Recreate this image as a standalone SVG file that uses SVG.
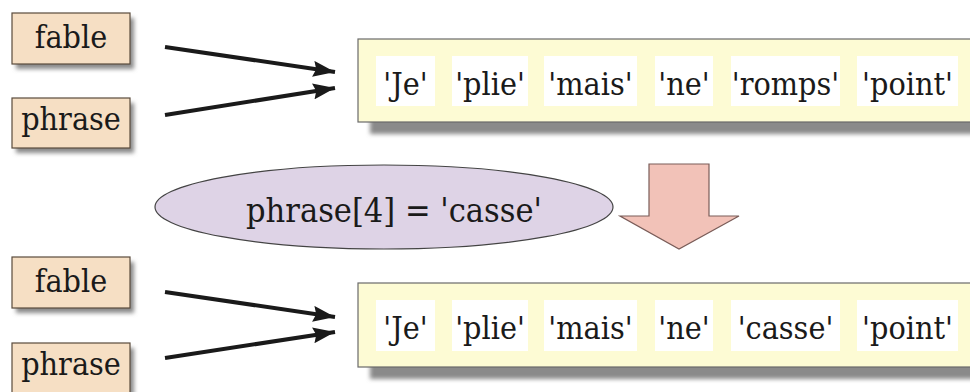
<svg xmlns="http://www.w3.org/2000/svg" width="970" height="392" viewBox="0 0 970 392">
<defs>
<filter id="sh" x="-10%" y="-20%" width="130%" height="160%"><feGaussianBlur stdDeviation="2"/></filter>
<marker id="ah" viewBox="0 0 22 16" refX="22" refY="8" markerWidth="22" markerHeight="16" markerUnits="userSpaceOnUse" orient="auto"><path d="M0,0 L22,8 L0,16 L3,8 Z" fill="#1a1a1a"/></marker>
</defs>
<style>
text{font-family:"DejaVu Serif","Liberation Serif",serif;fill:#1a1a1a;text-anchor:middle}
.name rect.b{fill:#f6dfc4;stroke:#5a4b3c;stroke-width:1.2}
.shadow{fill:#8a8a8a;filter:url(#sh)}
.lst rect.b{fill:#fdfbd4;stroke:#6a6a6a;stroke-width:1.2}
.cell{fill:#ffffff}
.nt{font-size:32px}
.ct{font-size:32px}
.conn line{stroke:#1a1a1a;stroke-width:4;marker-end:url(#ah)}
</style>
<rect width="970" height="392" fill="#ffffff"/>

<g id="fable1" class="name">
<rect class="shadow" x="16" y="18" width="118" height="51"/>
<rect class="b" x="12" y="13" width="118" height="51"/>
<text class="nt" transform="matrix(0.9 0 0 1 71 0)" x="0" y="48">fable</text>
</g>
<g id="phrase1" class="name">
<rect class="shadow" x="16" y="103" width="118" height="50"/>
<rect class="b" x="12" y="98" width="118" height="50"/>
<text class="nt" transform="matrix(0.9 0 0 1 71 0)" x="0" y="130">phrase</text>
</g>

<g id="list1" class="lst">
<rect class="shadow" x="370" y="51" width="610" height="83"/>
<rect class="b" x="358" y="39" width="620" height="83"/>
<rect class="cell" x="376" y="56" width="59" height="50"/>
<rect class="cell" x="452" y="56" width="76" height="50"/>
<rect class="cell" x="544" y="56" width="93" height="50"/>
<rect class="cell" x="655" y="56" width="58" height="50"/>
<rect class="cell" x="731" y="56" width="109" height="50"/>
<rect class="cell" x="857" y="56" width="101" height="50"/>
<text class="ct" transform="matrix(0.9 0 0 1 405.5 0)" x="0" y="95">'Je'</text>
<text class="ct" transform="matrix(0.9 0 0 1 490 0)" x="0" y="95">'plie'</text>
<text class="ct" transform="matrix(0.9 0 0 1 590.5 0)" x="0" y="95">'mais'</text>
<text class="ct" transform="matrix(0.9 0 0 1 684 0)" x="0" y="95">'ne'</text>
<text class="ct" transform="matrix(0.9 0 0 1 785.5 0)" x="0" y="95">'romps'</text>
<text class="ct" transform="matrix(0.9 0 0 1 907.5 0)" x="0" y="95">'point'</text>
</g>

<g id="op">
<ellipse cx="384" cy="207" rx="229" ry="42" fill="#ded3e6" stroke="#444" stroke-width="1.2"/>
<text transform="matrix(0.9 0 0 1 394 0)" x="0" y="222" font-size="34">phrase[4] = 'casse'</text>
</g>

<g id="down">
<path d="M649,164 L709,164 L709,216 L739,216 L679,249 L620,216 L649,216 Z" fill="#f2c2b8" stroke="#7a5c58" stroke-width="1.2"/>
</g>

<g id="fable2" class="name">
<rect class="shadow" x="16" y="262" width="118" height="51"/>
<rect class="b" x="12" y="257" width="118" height="51"/>
<text class="nt" transform="matrix(0.9 0 0 1 71 0)" x="0" y="292">fable</text>
</g>
<g id="phrase2" class="name">
<rect class="shadow" x="16" y="348" width="118" height="50"/>
<rect class="b" x="12" y="343" width="118" height="50"/>
<text class="nt" transform="matrix(0.9 0 0 1 71 0)" x="0" y="375">phrase</text>
</g>

<g id="list2" class="lst">
<rect class="shadow" x="370" y="295" width="610" height="84"/>
<rect class="b" x="358" y="283" width="620" height="84"/>
<rect class="cell" x="376" y="300" width="59" height="51"/>
<rect class="cell" x="452" y="300" width="76" height="51"/>
<rect class="cell" x="544" y="300" width="93" height="51"/>
<rect class="cell" x="655" y="300" width="58" height="51"/>
<rect class="cell" x="731" y="300" width="109" height="51"/>
<rect class="cell" x="857" y="300" width="101" height="51"/>
<text class="ct" transform="matrix(0.9 0 0 1 405.5 0)" x="0" y="339">'Je'</text>
<text class="ct" transform="matrix(0.9 0 0 1 490 0)" x="0" y="339">'plie'</text>
<text class="ct" transform="matrix(0.9 0 0 1 590.5 0)" x="0" y="339">'mais'</text>
<text class="ct" transform="matrix(0.9 0 0 1 684 0)" x="0" y="339">'ne'</text>
<text class="ct" transform="matrix(0.9 0 0 1 785.5 0)" x="0" y="339">'casse'</text>
<text class="ct" transform="matrix(0.9 0 0 1 907.5 0)" x="0" y="339">'point'</text>
</g>

<g id="connectors" class="conn">
<line x1="165" y1="47" x2="335" y2="72"/>
<line x1="165" y1="115" x2="335" y2="88"/>
<line x1="165" y1="292" x2="335" y2="317"/>
<line x1="165" y1="358" x2="335" y2="332"/>
</g>
</svg>
